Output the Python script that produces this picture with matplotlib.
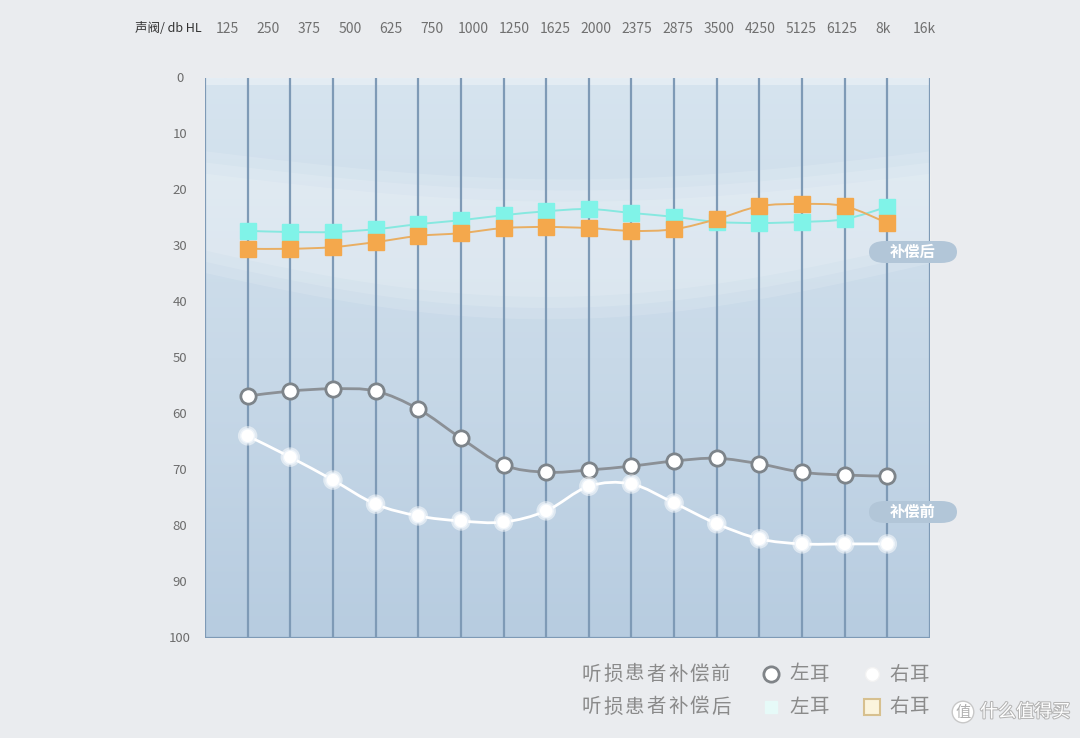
import numpy as np
import matplotlib
matplotlib.use('Agg')
import matplotlib.pyplot as plt
from matplotlib.path import Path
from matplotlib.patches import PathPatch, FancyBboxPatch
import matplotlib.patheffects as pe

plt.rcParams['font.family'] = ['Noto Sans CJK SC', 'DejaVu Sans']

# header frequency labels
freq_labels = ['125', '250', '375', '500', '625', '750', '1000', '1250', '1625', '2000',
               '2375', '2875', '3500', '4250', '5125', '6125', '8k', '16k']
# points sit on the column lines 1..16
x_pts = np.arange(1, 17)

before_left = [56.8, 55.9, 55.5, 55.9, 59.1, 64.3, 69.1, 70.4, 70.0, 69.3, 68.4, 67.9, 68.9, 70.4, 70.9, 71.1]
before_right = [63.9, 67.7, 71.8, 76.1, 78.2, 79.1, 79.3, 77.3, 72.9, 72.5, 75.9, 79.6, 82.3, 83.2, 83.2, 83.2]
after_left = [27.3, 27.5, 27.5, 27.0, 26.1, 25.4, 24.5, 23.8, 23.4, 24.1, 24.8, 25.7, 25.9, 25.7, 25.2, 23.0]
after_right = [30.5, 30.5, 30.2, 29.3, 28.2, 27.7, 26.8, 26.6, 26.8, 27.3, 27.0, 25.2, 22.9, 22.5, 22.9, 25.9]

y_ticks = [0, 10, 20, 30, 40, 50, 60, 70, 80, 90, 100]

W, H = 1080, 738
fig = plt.figure(figsize=(W / 100, H / 100), dpi=100)
fig.patch.set_facecolor('#eaecef')

ax = fig.add_axes([205 / W, 1 - 638 / H, 725 / W, 560 / H])
ax.set_xlim(0, 17)
ax.set_ylim(100, 0)
ax.axis('off')

# column background gradient
grad = np.linspace(0, 1, 256).reshape(-1, 1)
cmap = matplotlib.colors.LinearSegmentedColormap.from_list('bg', ['#d6e4ef', '#c8d9e8', '#b7cce0'])
ax.imshow(grad, extent=(0, 17, 100, 0), aspect='auto', cmap=cmap, zorder=0)

# soft light band
xb = np.linspace(0, 17, 200)
upper = 13 + 5 * np.sin(np.pi * xb / 17)
lower = 33 + 10 * np.sin(np.pi * (xb + 1) / 18)
for k in range(3):
    ax.fill_between(xb, upper + k * 2, lower - k * 2, color='white', alpha=0.13, lw=0, zorder=1)
ax.fill_between(xb, 0, 1.2, color='white', alpha=0.35, lw=0, zorder=1)

# column lines
for i in range(18):
    ax.axvline(i, color='#7e9ab6', lw=1.6, zorder=2)
ax.axhline(100, color='#7e9ab6', lw=1.6, zorder=2)


def smooth(ax, xs, ys, **kw):
    p = np.column_stack([xs, ys]).astype(float)
    ext = np.vstack([p[0], p, p[-1]])
    verts = [tuple(p[0])]
    codes = [Path.MOVETO]
    for i in range(len(p) - 1):
        p0, p1, p2, p3 = ext[i], ext[i + 1], ext[i + 2], ext[i + 3]
        c1 = p1 + (p2 - p0) / 6
        c2 = p2 - (p3 - p1) / 6
        verts += [tuple(c1), tuple(c2), tuple(p2)]
        codes += [Path.CURVE4] * 3
    ax.add_patch(PathPatch(Path(verts, codes), fill=False, **kw))


smooth(ax, x_pts, before_left, edgecolor='#8b9096', lw=2, zorder=3)
smooth(ax, x_pts, before_right, edgecolor='white', lw=2, zorder=3)
smooth(ax, x_pts, after_left, edgecolor='#86e8e0', lw=1.4, zorder=3)
smooth(ax, x_pts, after_right, edgecolor='#e9ae62', lw=1.4, zorder=3)

ax.plot(x_pts, before_left, 'o', ms=11, mfc='white', mec='#7d848a', mew=2, ls='none', zorder=5)
ax.plot(x_pts, before_right, 'o', ms=10, mfc='white', mec='#eef4fa', mew=1,
        ls='none', zorder=5, path_effects=[pe.withStroke(linewidth=4, foreground='#ffffff', alpha=0.5)])
ax.plot(x_pts, after_left, 's', ms=12, mfc='#80f3e8', mec='#80f3e8', ls='none', zorder=6)
ax.plot(x_pts, after_right, 's', ms=12, mfc='#f4a84c', mec='#f4a84c', ls='none', zorder=7)

# y labels
for v in y_ticks:
    ax.text(-0.59, v, str(v), ha='center', va='center', fontsize=9.5, color='#6d6d6d')

# header labels (evenly spaced above the grid)
for i, lab in enumerate(freq_labels):
    fig.text((227 + 41 * i) / W, 1 - 29 / H, lab, ha='center', va='center', fontsize=10, color='#707070')
fig.text(168 / W, 1 - 29 / H, '声阀/ db HL', ha='center', va='center', fontsize=9, color='#333333')


def pill(cx, cy, text):
    box = FancyBboxPatch(((cx - 44) / W, 1 - (cy + 11) / H), 88 / W, 22 / H,
                         boxstyle='round,pad=0,rounding_size=0.015', transform=fig.transFigure,
                         facecolor='#b2c6d8', edgecolor='none', zorder=10)
    fig.add_artist(box)
    fig.text(cx / W, 1 - cy / H, text, ha='center', va='center', fontsize=11,
             color='white', fontweight='bold', zorder=11)


pill(913, 252, '补偿后')
pill(913, 512, '补偿前')


def spaced(x0, y, s, step, **kw):
    for k, ch in enumerate(s):
        fig.text((x0 + step * k) / W, 1 - y / H, ch, ha='center', va='center', **kw)


# legend
lab_kw = dict(fontsize=14, color='#8a8a8a')
spaced(591, 674, '听损患者补偿前', 21.7, **lab_kw)
spaced(591, 707, '听损患者补偿后', 21.7, **lab_kw)
for (px, py) in [(799, 674), (899, 674), (799, 707), (899, 707)]:
    spaced(px, py, '左耳' if px < 850 else '右耳', 20, **lab_kw)
ax.plot([771 / W], [1 - 674 / H], 'o', ms=11, mfc='white', mec='#808488', mew=2,
        transform=fig.transFigure, clip_on=False)
ax.plot([872 / W], [1 - 674 / H], 'o', ms=10, mfc='white', mec='#f2f2f2', mew=1,
        transform=fig.transFigure, clip_on=False)
ax.plot([771 / W], [1 - 707 / H], 's', ms=8, mfc='#e6faf8', mec='#e6faf8',
        transform=fig.transFigure, clip_on=False)
ax.plot([872 / W], [1 - 707 / H], 's', ms=12, mfc='#fbf4dd', mec='#d7c08f', mew=1.5,
        transform=fig.transFigure, clip_on=False)

# watermark
fig.text(963 / W, 1 - 712 / H, '值', ha='center', va='center', fontsize=11, color='#b0b0b0',
         bbox=dict(boxstyle='circle,pad=0.15', fc='white', ec='#c8c8c8'))
fig.text(1025 / W, 1 - 712 / H, '什么值得买', ha='center', va='center', fontsize=13, color='white',
         path_effects=[pe.withStroke(linewidth=1.5, foreground='#b5b5b5')])

fig.savefig('out.png', dpi=100, facecolor=fig.get_facecolor())
